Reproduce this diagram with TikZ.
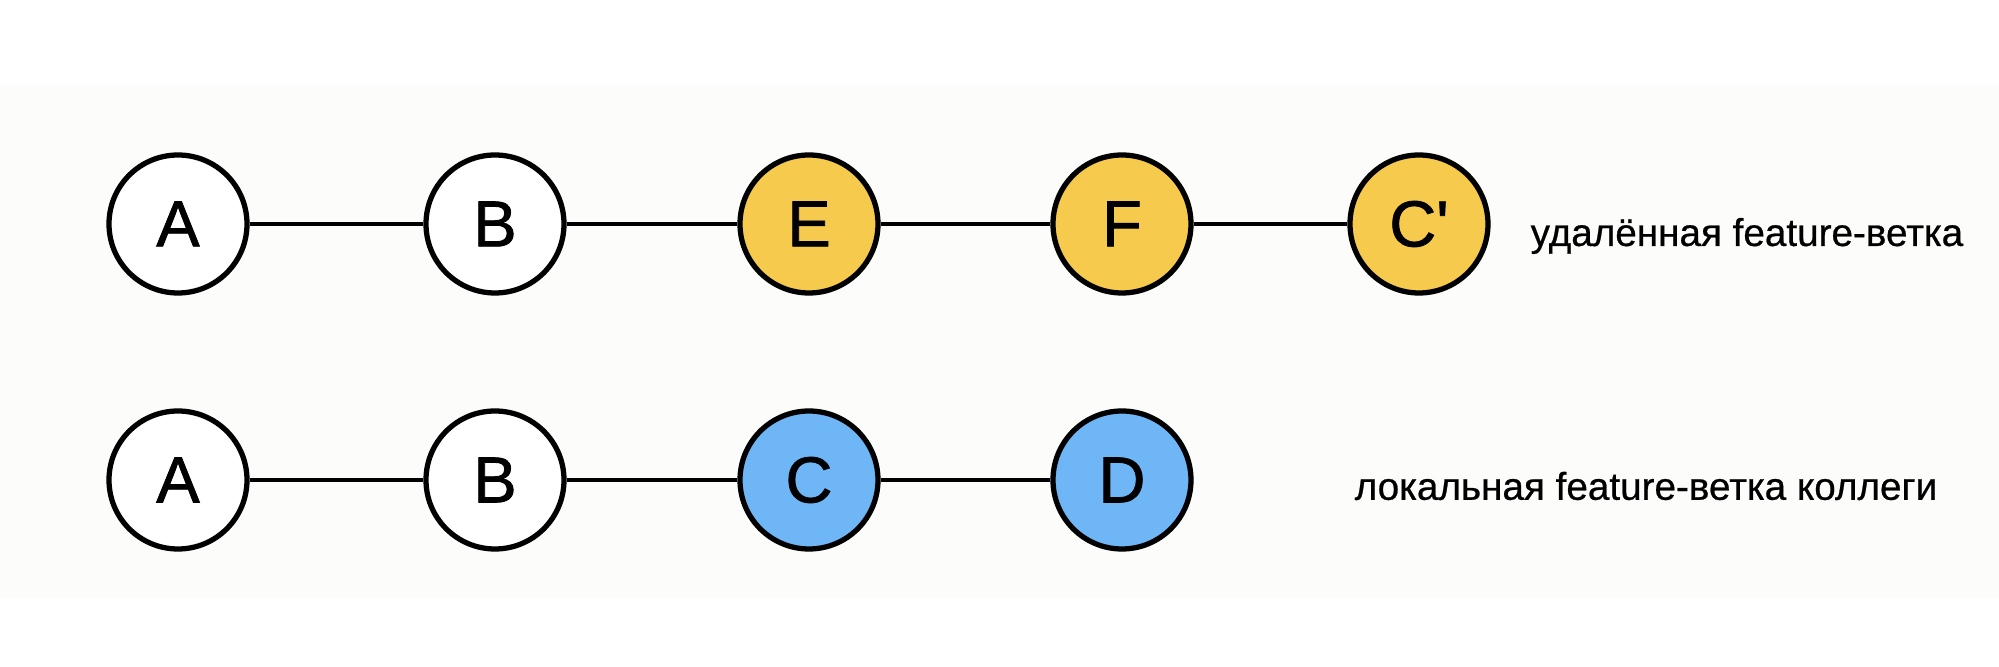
\documentclass[tikz,border=0pt]{standalone}
\usepackage{fontspec}
\setmainfont{Liberation Sans}
\newfontfamily\commitfont[FakeBold=1.2]{Liberation Sans}
\newfontfamily\labelfont[FakeBold=0.6]{Liberation Sans}
\definecolor{featyellow}{RGB}{246,202,76}
\definecolor{featblue}{RGB}{110,182,246}
\definecolor{bandbg}{RGB}{252,252,250}
\tikzset{
  commit/.style={circle,draw=black,line width=1.5pt,minimum size=1.38cm,inner sep=0pt,
    font=\commitfont\fontsize{18.5}{18.5}\selectfont},
  link/.style={line width=0.95pt},
  branchlabel/.style={anchor=west,inner sep=0pt,font=\labelfont\fontsize{11}{13}\selectfont}
}
\begin{document}
\begin{tikzpicture}
\useasboundingbox (0,0) rectangle (19.99,6.67);
\fill[white] (0,0) rectangle (19.99,6.67);
\fill[bandbg] (0,0.69) rectangle (19.99,5.82);
% remote branch
\node[commit,fill=white] (a1) at (1.78,4.43) {A};
\node[commit,fill=white] (b1) at (4.95,4.43) {B};
\node[commit,fill=featyellow] (e1) at (8.09,4.43) {E};
\node[commit,fill=featyellow] (f1) at (11.22,4.43) {F};
\node[commit,fill=featyellow] (c1) at (14.19,4.43) {C\textquotesingle};
\draw[link] (a1) -- (b1) -- (e1) -- (f1) -- (c1);
\node[branchlabel] (l1) at (15.30,4.31) {удалённая feature-ветка};
% local branch
\node[commit,fill=white] (a2) at (1.78,1.87) {A};
\node[commit,fill=white] (b2) at (4.95,1.87) {B};
\node[commit,fill=featblue] (c2) at (8.09,1.87) {C};
\node[commit,fill=featblue] (d2) at (11.22,1.87) {D};
\draw[link] (a2) -- (b2) -- (c2) -- (d2);
\node[branchlabel] (l2) at (13.54,1.81) {локальная feature-ветка коллеги};
\end{tikzpicture}
\end{document}
